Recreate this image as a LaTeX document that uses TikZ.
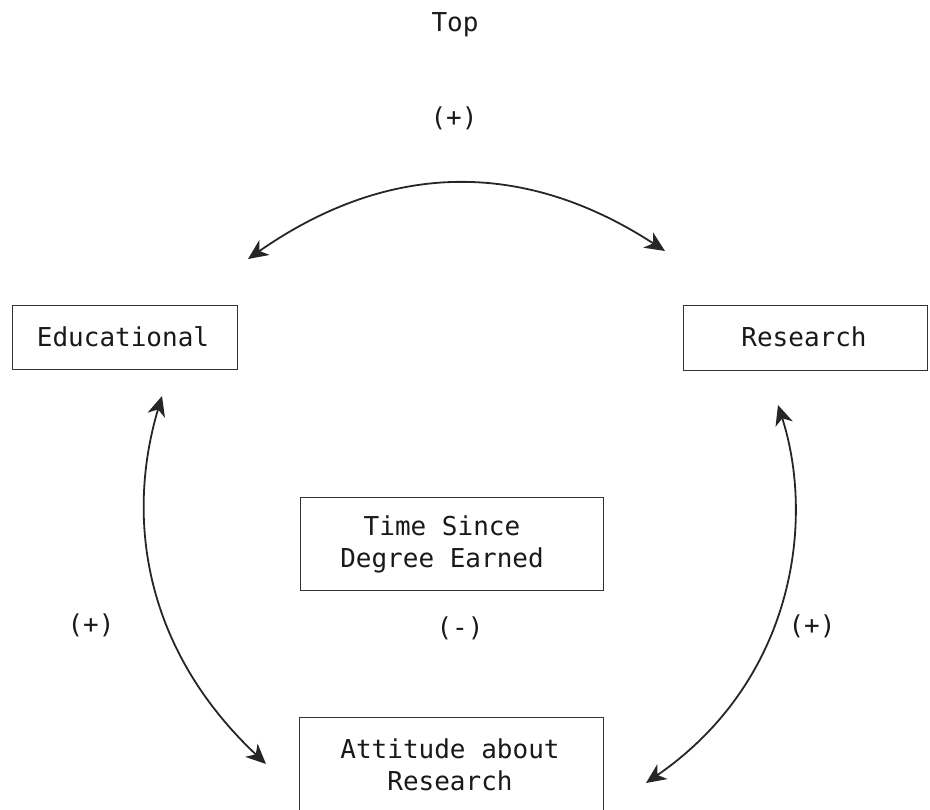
\documentclass[tikz,border=0pt]{standalone}
\usepackage{fontspec}
\newfontfamily\twfont{DejaVu Sans Mono}
\usetikzlibrary{arrows.meta}
\begin{document}
\begin{tikzpicture}[x=1pt,y=-1pt,
  boxst/.style={draw=black!80,line width=0.9pt,inner sep=0pt},
  txt/.style={font=\twfont\fontsize{26}{32}\selectfont,inner sep=0pt,align=center,text=black!90},
  arc/.style={line width=1.8pt,black!85,{Stealth[length=20pt,width=18pt,inset=6pt]}-{Stealth[length=20pt,width=18pt,inset=6pt]}}]
\useasboundingbox (0,0) rectangle (930,810);
\clip (0,0) rectangle (930,810);
% boxes
\node[boxst,minimum width=225pt,minimum height=64pt] (edu) at (124.5,337) {};
\node[boxst,minimum width=244pt,minimum height=65pt] (res) at (805,337.5) {};
\node[boxst,minimum width=303pt,minimum height=93pt] (time) at (451.5,543.5) {};
\node[boxst,minimum width=304pt,minimum height=100pt] (att) at (451,767) {};
% texts
\node[txt] (edut) at (123,337) {Educational};
\node[txt] (rest) at (804,337) {Research};
\node[txt] (timet) at (442,544) {Time Since\\Degree Earned};
\node[txt] (attt) at (450,765) {Attitude about\\Research};
\node[txt,anchor=base] (top) at (455,32) {Top};
\node[txt,anchor=base] (ptop) at (454,127) {(+)};
\node[txt,anchor=base] (pleft) at (91,633) {(+)};
\node[txt,anchor=base] (pright) at (812,634) {(+)};
\node[txt,anchor=base] (pmid) at (460,636) {(-)};
% arc end points
\coordinate (tl) at (248,259);
\coordinate (tr) at (665,251);
\coordinate (lt) at (162,396);
\coordinate (lb) at (266,764);
\coordinate (rt) at (778,405);
\coordinate (rb) at (646,783);
% arcs
\draw[arc] (tl) .. controls (390,160) and (525,160) .. (tr);
\draw[arc] (lt) .. controls (125,520) and (145,650) .. (lb);
\draw[arc] (rt) .. controls (815,520) and (795,680) .. (rb);
\end{tikzpicture}
\end{document}
